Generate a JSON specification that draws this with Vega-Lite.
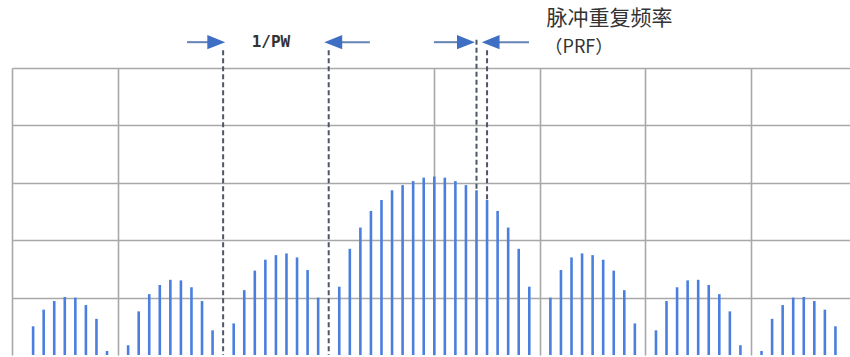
{
  "$schema": "https://vega.github.io/schema/vega-lite/v6.json",
  "autosize": {"type": "none"},
  "padding": {"left": 12, "top": 68, "right": 0, "bottom": 2},
  "width": 838,
  "height": 287,
  "background": "white",
  "config": {"view": {"stroke": null}},
  "datasets": {
    "bars": [
      {"n": -38, "amp": 0.50}, {"n": -37, "amp": 0.79}, {"n": -36, "amp": 0.94}, {"n": -35, "amp": 1.01}, {"n": -34, "amp": 1.00}, {"n": -33, "amp": 0.87}, {"n": -32, "amp": 0.63}, {"n": -31, "amp": 0.07},
      {"n": -29, "amp": 0.17}, {"n": -28, "amp": 0.76}, {"n": -27, "amp": 1.06}, {"n": -26, "amp": 1.22}, {"n": -25, "amp": 1.31}, {"n": -24, "amp": 1.30}, {"n": -23, "amp": 1.18}, {"n": -22, "amp": 0.94}, {"n": -21, "amp": 0.43},
      {"n": -19, "amp": 0.55}, {"n": -18, "amp": 1.13}, {"n": -17, "amp": 1.47}, {"n": -16, "amp": 1.66}, {"n": -15, "amp": 1.74}, {"n": -14, "amp": 1.77}, {"n": -13, "amp": 1.70}, {"n": -12, "amp": 1.48}, {"n": -11, "amp": 1.00},
      {"n": -9, "amp": 1.19}, {"n": -8, "amp": 1.85}, {"n": -7, "amp": 2.22}, {"n": -6, "amp": 2.51}, {"n": -5, "amp": 2.70}, {"n": -4, "amp": 2.87}, {"n": -3, "amp": 2.96}, {"n": -2, "amp": 3.03}, {"n": -1, "amp": 3.09},
      {"n": 0, "amp": 3.11},
      {"n": 1, "amp": 3.09}, {"n": 2, "amp": 3.03}, {"n": 3, "amp": 2.96}, {"n": 4, "amp": 2.87}, {"n": 5, "amp": 2.70}, {"n": 6, "amp": 2.51}, {"n": 7, "amp": 2.22}, {"n": 8, "amp": 1.85}, {"n": 9, "amp": 1.19},
      {"n": 11, "amp": 1.00}, {"n": 12, "amp": 1.48}, {"n": 13, "amp": 1.70}, {"n": 14, "amp": 1.77}, {"n": 15, "amp": 1.74}, {"n": 16, "amp": 1.66}, {"n": 17, "amp": 1.47}, {"n": 18, "amp": 1.13}, {"n": 19, "amp": 0.55},
      {"n": 21, "amp": 0.43}, {"n": 22, "amp": 0.94}, {"n": 23, "amp": 1.18}, {"n": 24, "amp": 1.30}, {"n": 25, "amp": 1.31}, {"n": 26, "amp": 1.22}, {"n": 27, "amp": 1.06}, {"n": 28, "amp": 0.76}, {"n": 29, "amp": 0.17},
      {"n": 31, "amp": 0.07}, {"n": 32, "amp": 0.63}, {"n": 33, "amp": 0.87}, {"n": 34, "amp": 1.00}, {"n": 35, "amp": 1.01}, {"n": 36, "amp": 0.94}, {"n": 37, "amp": 0.79}, {"n": 38, "amp": 0.50}
    ],
    "guides": [
      {"x": -20, "top": 5.31, "bottom": 0},
      {"x": -10, "top": 5.31, "bottom": 0},
      {"x": 4, "top": 5.49, "bottom": 2.87},
      {"x": 5, "top": 5.31, "bottom": 2.70}
    ],
    "shafts": [
      {"x1": -23.42, "x2": -20.9, "y": 5.45},
      {"x1": -9.5, "x2": -6.1, "y": 5.45},
      {"x1": -0.03, "x2": 2.8, "y": 5.45},
      {"x1": 5.6, "x2": 8.97, "y": 5.45}
    ],
    "heads": [
      {"x": -20.65, "y": 5.45, "dir": "right"},
      {"x": -9.57, "y": 5.45, "dir": "left"},
      {"x": 3.0, "y": 5.45, "dir": "right"},
      {"x": 5.34, "y": 5.45, "dir": "left"}
    ],
    "labels": [
      {"x": -15.47, "y": 5.45, "label": "1/PW", "kind": "pw"},
      {"x": 16.6, "y": 5.85, "label": "脉冲重复频率", "kind": "cn"},
      {"x": 13.7, "y": 5.35, "label": "（PRF）", "kind": "prf"}
    ]
  },
  "layer": [
    {
      "data": {"name": "bars"},
      "mark": {"type": "rule", "color": "#4a7fdf", "strokeWidth": 2.6},
      "encoding": {
        "x": {
          "field": "n", "type": "quantitative",
          "scale": {"domain": [-40, 39.38], "nice": false, "zero": false},
          "axis": {"title": null, "labels": false, "ticks": false, "domain": false, "grid": true, "values": [-40, -30, 0, 10, 20, 30], "gridColor": "#a8a8a8", "gridWidth": 1.6, "gridOpacity": 1}
        },
        "y": {
          "field": "amp", "type": "quantitative",
          "scale": {"domain": [0, 5], "nice": false},
          "axis": {"title": null, "labels": false, "ticks": false, "domain": false, "grid": true, "values": [1, 2, 3, 4, 5], "gridColor": "#a8a8a8", "gridWidth": 1.6, "gridOpacity": 1}
        },
        "y2": {"datum": 0}
      }
    },
    {
      "data": {"name": "guides"},
      "mark": {"type": "rule", "color": "#4d5568", "strokeWidth": 2, "strokeDash": [5, 3]},
      "encoding": {
        "x": {"field": "x", "type": "quantitative"},
        "y": {"field": "top", "type": "quantitative"},
        "y2": {"field": "bottom"}
      }
    },
    {
      "data": {"name": "shafts"},
      "mark": {"type": "rule", "color": "#6482b4", "strokeWidth": 2},
      "encoding": {
        "x": {"field": "x1", "type": "quantitative"},
        "x2": {"field": "x2"},
        "y": {"field": "y", "type": "quantitative"}
      }
    },
    {
      "data": {"name": "heads"},
      "transform": [{"filter": "datum.dir === 'right'"}],
      "mark": {"type": "point", "filled": true, "color": "#3f6fc4", "opacity": 1, "size": 320, "shape": "M-1,-0.8L1,0L-1,0.8Z"},
      "encoding": {
        "x": {"field": "x", "type": "quantitative"},
        "y": {"field": "y", "type": "quantitative"}
      }
    },
    {
      "data": {"name": "heads"},
      "transform": [{"filter": "datum.dir === 'left'"}],
      "mark": {"type": "point", "filled": true, "color": "#3f6fc4", "opacity": 1, "size": 320, "shape": "M1,-0.8L-1,0L1,0.8Z"},
      "encoding": {
        "x": {"field": "x", "type": "quantitative"},
        "y": {"field": "y", "type": "quantitative"}
      }
    },
    {
      "data": {"name": "labels"},
      "transform": [{"filter": "datum.kind === 'pw'"}],
      "mark": {"type": "text", "font": "DejaVu Sans Mono", "fontSize": 16, "fontWeight": "bold", "color": "#333333", "align": "center", "baseline": "middle"},
      "encoding": {
        "x": {"field": "x", "type": "quantitative"},
        "y": {"field": "y", "type": "quantitative"},
        "text": {"field": "label"}
      }
    },
    {
      "data": {"name": "labels"},
      "transform": [{"filter": "datum.kind === 'cn'"}],
      "mark": {"type": "text", "font": "Noto Sans CJK SC", "fontSize": 21, "color": "#333333", "align": "center", "baseline": "middle"},
      "encoding": {
        "x": {"field": "x", "type": "quantitative"},
        "y": {"field": "y", "type": "quantitative"},
        "text": {"field": "label"}
      }
    },
    {
      "data": {"name": "labels"},
      "transform": [{"filter": "datum.kind === 'prf'"}],
      "mark": {"type": "text", "font": "Noto Sans CJK SC", "fontSize": 18, "color": "#333333", "align": "center", "baseline": "middle"},
      "encoding": {
        "x": {"field": "x", "type": "quantitative"},
        "y": {"field": "y", "type": "quantitative"},
        "text": {"field": "label"}
      }
    }
  ]
}
